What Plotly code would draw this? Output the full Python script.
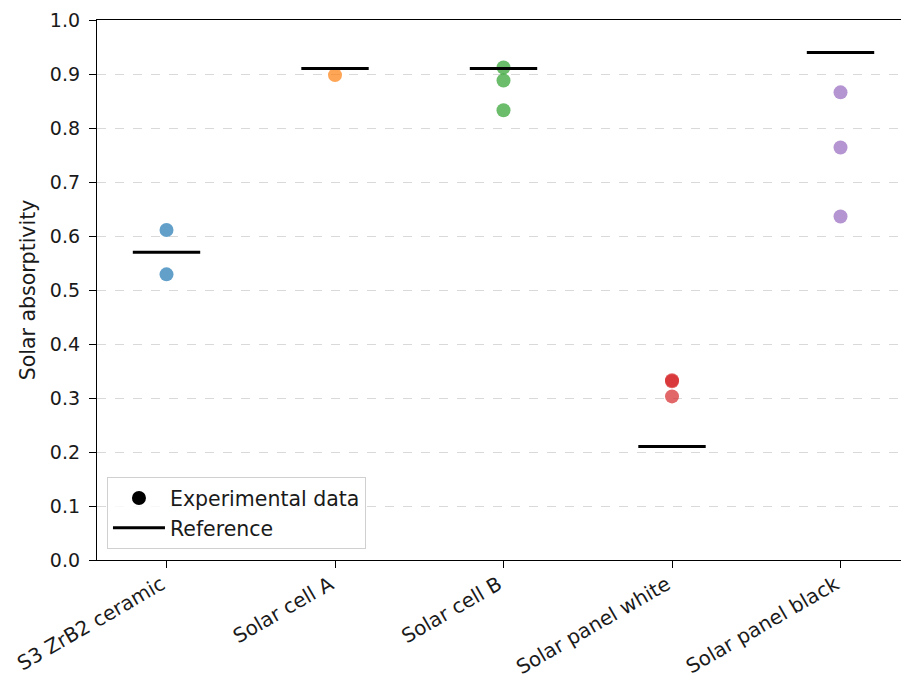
import plotly.graph_objects as go

categories = ["S3 ZrB2 ceramic", "Solar cell A", "Solar cell B",
              "Solar panel white", "Solar panel black"]
experimental = [
    [0.611, 0.529],
    [0.898],
    [0.912, 0.888, 0.833],
    [0.333, 0.331, 0.303],
    [0.866, 0.764, 0.636],
]
reference = [0.57, 0.91, 0.91, 0.21, 0.94]
colors = ["#1f77b4", "#ff7f0e", "#2ca02c", "#d62728", "#9467bd"]
y_ticks = [0.0, 0.1, 0.2, 0.3, 0.4, 0.5, 0.6, 0.7, 0.8, 0.9, 1.0]

FONT = "DejaVu Sans"
TXT = "#1a1a1a"
fig = go.Figure()

# experimental points
for i, vals in enumerate(experimental):
    fig.add_trace(go.Scatter(
        x=[i] * len(vals), y=vals, mode="markers",
        marker=dict(color=colors[i], size=14, opacity=0.7, line=dict(width=0)),
        showlegend=False, hoverinfo="y"))

# reference lines
half = 0.2
rx, ry = [], []
for i, v in enumerate(reference):
    rx += [i - half, i + half, None]
    ry += [v, v, None]
fig.add_trace(go.Scatter(x=rx, y=ry, mode="lines",
                         line=dict(color="black", width=3),
                         showlegend=False, hoverinfo="y"))

# legend entries
fig.add_trace(go.Scatter(x=[None], y=[None], mode="markers",
                         marker=dict(color="black", size=14),
                         name="Experimental data"))
fig.add_trace(go.Scatter(x=[None], y=[None], mode="lines",
                         line=dict(color="black", width=3),
                         name="Reference"))

fig.update_layout(
    width=901, height=681,
    margin=dict(l=97, r=0, t=20, b=121, autoexpand=False),
    plot_bgcolor="white", paper_bgcolor="white",
    font=dict(family=FONT, size=20.5, color=TXT),
    showlegend=True,
    legend=dict(x=0.0124, y=0.02, xanchor="left", yanchor="bottom",
                bordercolor="#d0d0d0", borderwidth=1, bgcolor="rgba(255,255,255,0.8)",
                font=dict(family=FONT, size=20.5, color=TXT),
                itemwidth=52, tracegroupgap=0),
    xaxis=dict(range=[-0.4125, 4.359], tickmode="array",
               tickvals=list(range(len(categories))), ticktext=categories,
               tickangle=-30, ticks="outside", ticklen=7, tickcolor="black",
               ticklabelstandoff=-3, ticklabelshift=-5,
               showline=True, linecolor="black", linewidth=1.3, mirror=True,
               showgrid=False, zeroline=False, automargin=False,
               tickfont=dict(family=FONT, size=20, color=TXT)),
    yaxis=dict(range=[0, 1], tickmode="array", tickvals=y_ticks,
               ticktext=[f"{t:.1f}" for t in y_ticks],
               ticks="outside", ticklen=7, tickcolor="black",
               ticklabelstandoff=5,
               showline=True, linecolor="black", linewidth=1.3,
               showgrid=True, gridcolor="#d9d9d9", griddash="dash", gridwidth=1,
               zeroline=False, automargin=False,
               title=dict(text="Solar absorptivity", standoff=8,
                          font=dict(family=FONT, size=20.5, color=TXT)),
               tickfont=dict(family=FONT, size=19, color=TXT)),
)

fig.write_html("out.html")
